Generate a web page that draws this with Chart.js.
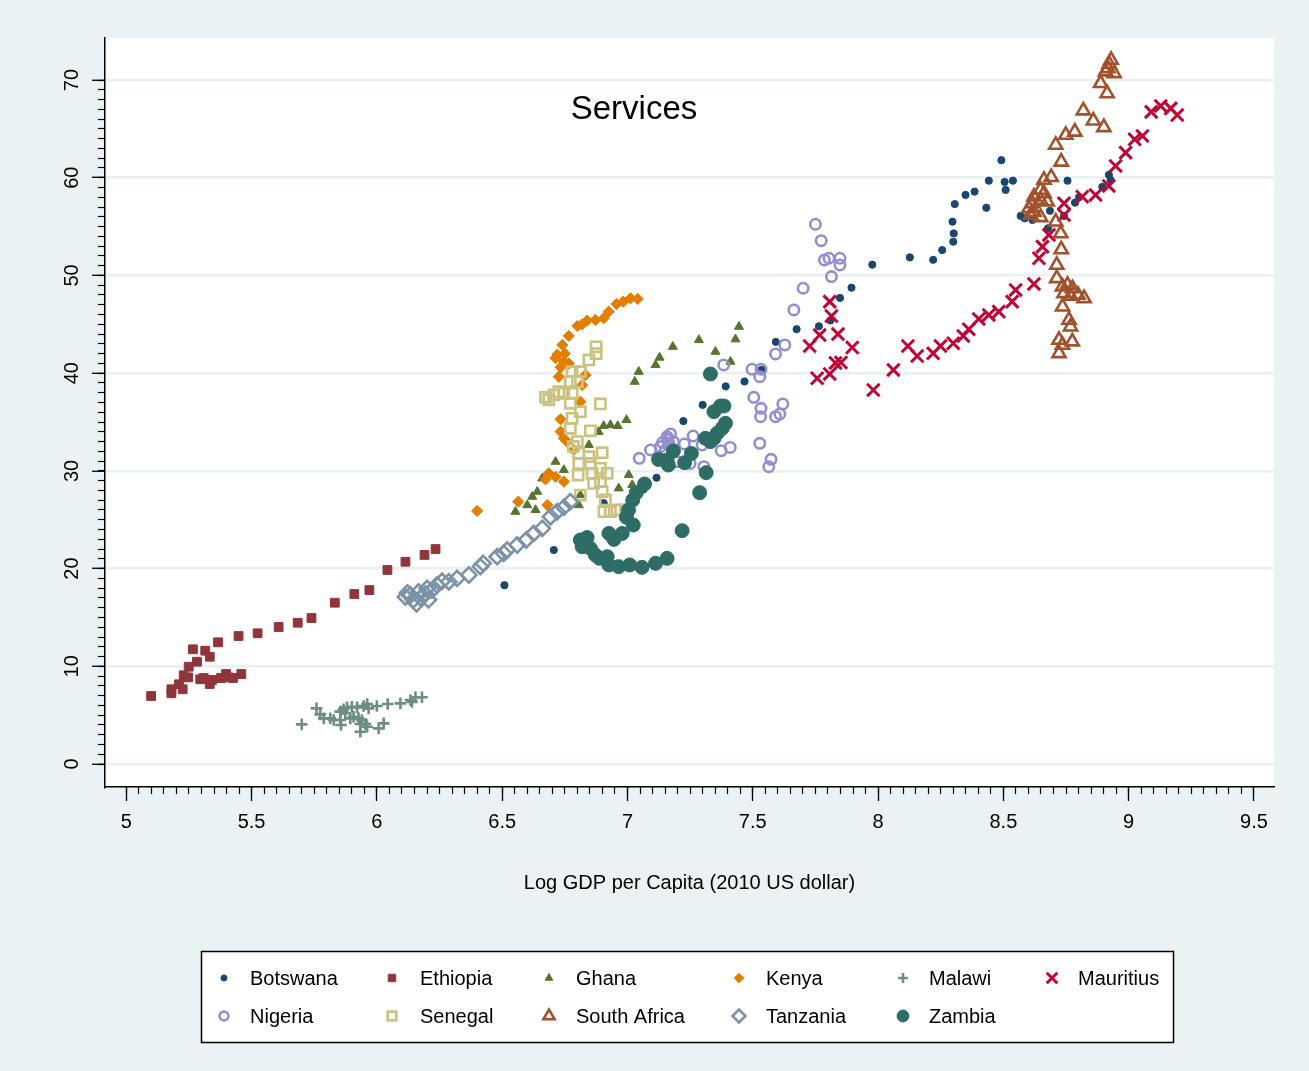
<!DOCTYPE html>
<html><head><meta charset="utf-8">
<script src="https://cdn.jsdelivr.net/npm/chart.js@4.4.1/dist/chart.umd.min.js"></script>
<style>html,body{margin:0;padding:0;background:#eaf2f3;}#wrap{width:1309px;height:1071px;position:relative;}</style>
</head><body><div id="wrap"><canvas id="c" width="1309" height="1071"></canvas></div>
<script>
// ---------------- DATA ----------------
const chartTitle = 'Services';
const xAxisTitle = 'Log GDP per Capita (2010 US dollar)';
const xTickValues = [5, 5.5, 6, 6.5, 7, 7.5, 8, 8.5, 9, 9.5];
const yTickValues = [0, 10, 20, 30, 40, 50, 60, 70];

const countries = ['Botswana','Ethiopia','Ghana','Kenya','Malawi','Mauritius','Nigeria','Senegal','South Africa','Tanzania','Zambia'];

const botswanaX = [6.509,6.706,6.905,7.063,7.116,7.223,7.300,7.392,7.467,7.535,7.592,7.675,7.764,7.810,7.848,7.894,7.977,8.127,8.220,8.256,8.300,8.302,8.297,8.306,8.349,8.385,8.432,8.442,8.492,8.505,8.509,8.538,8.569,8.585,8.616,8.678,8.686,8.742,8.756,8.786,8.802,8.895,8.921,8.928];
const botswanaY = [18.3,21.9,26.7,28.1,29.3,35.1,36.75,38.65,39.15,40.35,43.2,44.5,44.8,45.4,47.7,48.75,51.1,51.85,51.6,52.6,53.45,54.3,55.5,57.3,58.24,58.58,56.93,59.7,61.8,59.57,58.75,59.7,56.09,55.85,55.68,54.83,56.62,56.09,59.7,57.45,58.0,59.06,60.29,59.77];

const ethiopiaX = [5.099,5.180,5.180,5.210,5.225,5.229,5.247,5.249,5.266,5.282,5.295,5.309,5.315,5.333,5.333,5.342,5.366,5.378,5.398,5.408,5.426,5.448,5.459,5.524,5.608,5.684,5.739,5.832,5.910,5.970,6.042,6.114,6.190,6.234];
const ethiopiaY = [6.96,7.65,7.24,8.16,7.65,9.08,8.87,9.96,11.74,10.47,8.67,8.8,11.6,10.98,8.19,8.6,12.46,8.8,9.21,8.87,8.8,13.1,9.21,13.38,14.02,14.46,14.94,16.51,17.4,17.8,19.86,20.7,21.4,22.0];

const ghanaX = [7.445,7.431,7.285,7.351,7.411,7.181,7.128,7.112,7.045,7.029,6.996,6.961,6.932,6.905,6.885,7.005,6.965,7.019,6.846,6.713,6.746,6.686,6.660,6.640,6.620,6.600,6.633,6.553,6.806,6.812];
const ghanaY = [44.76,43.47,43.4,42.2,41.18,42.71,41.6,40.84,40.15,39.13,35.21,34.6,34.7,34.6,34.0,29.58,28.22,28.56,32.65,30.94,30.09,29.75,29.24,27.87,27.36,26.5,26.0,25.82,26.5,27.53];

const kenyaX = [7.041,7.012,6.983,6.956,6.925,6.905,6.872,6.839,6.819,6.800,6.766,6.740,6.713,6.746,6.766,6.733,6.726,6.832,6.819,6.812,6.720,6.750,6.733,6.733,6.746,6.759,6.786,6.686,6.713,6.673,6.746,6.400,6.564,6.680];
const kenyaY = [47.6,47.66,47.32,47.08,46.3,45.62,45.45,45.37,45.0,44.83,43.81,42.89,41.53,41.18,41.0,40.6,39.64,39.81,38.79,37.08,41.9,42.0,35.28,34.03,33.33,33.0,32.14,29.75,29.4,29.14,28.9,25.9,26.85,26.5];

const malawiX = [5.700,5.759,5.774,5.788,5.814,5.828,5.854,5.854,5.857,5.867,5.874,5.881,5.894,5.900,5.907,5.921,5.927,5.934,5.934,5.940,5.947,5.954,5.961,5.961,5.967,6.000,6.007,6.027,6.043,6.094,6.134,6.140,6.154,6.180];
const malawiY = [4.06,5.7,5.08,4.67,4.67,4.5,4.5,5.36,3.99,5.6,5.19,5.8,4.67,5.86,4.84,5.8,4.67,4.09,3.31,4.5,5.94,4.09,6.14,3.82,5.7,5.94,3.65,4.16,6.14,6.21,6.55,6.36,6.83,6.83];

const mauritiusX = [7.727,7.757,7.767,7.807,7.814,7.807,7.830,7.852,7.840,7.897,7.981,8.061,8.119,8.156,8.220,8.249,8.300,8.340,8.362,8.402,8.442,8.482,8.535,8.549,8.622,8.642,8.656,8.682,8.742,8.742,8.815,8.868,8.921,8.948,8.988,9.024,9.055,9.090,9.128,9.168,9.194];
const mauritiusY = [42.78,39.48,43.9,47.32,45.85,39.92,41.05,41.09,44.0,42.63,38.28,40.33,42.78,41.76,42.03,42.78,43.06,43.81,44.5,45.55,45.96,46.3,47.32,48.52,49.13,51.76,52.95,54.15,56.19,57.38,58.06,58.24,59.16,61.21,62.57,63.93,64.28,66.74,67.35,67.1,66.42];

const nigeriaX = [7.750,7.773,7.786,7.804,7.848,7.848,7.814,7.701,7.664,7.628,7.591,7.384,7.497,7.533,7.528,7.504,7.533,7.531,7.591,7.608,7.620,7.528,7.573,7.564,7.410,7.374,7.305,7.047,7.092,7.132,7.158,7.172,7.165,7.152,7.227,7.262,7.298,7.198,7.250,7.184,7.140,7.160];
const nigeriaY = [55.24,53.56,51.59,51.76,51.76,51.07,49.88,48.69,46.47,42.89,41.97,40.84,40.4,40.4,39.64,37.53,36.4,35.55,35.55,35.82,36.85,32.82,31.18,30.43,32.4,32.07,30.43,31.29,32.14,32.48,33.5,33.78,32.82,32.14,32.75,33.57,32.65,30.94,30.76,32.97,32.9,33.2];

const senegalX = [6.875,6.875,6.846,6.812,6.779,6.800,6.772,6.779,6.726,6.706,6.673,6.686,6.746,6.772,6.812,6.892,6.779,6.772,6.852,6.800,6.784,6.806,6.846,6.899,6.806,6.852,6.892,6.859,6.919,6.803,6.892,6.865,6.899,6.812,6.912,6.906,6.932,6.958,6.992];
const senegalY = [42.7,42.0,41.35,40.15,40.15,39.13,39.13,37.94,38.1,37.77,37.53,37.26,37.94,36.92,36.06,36.85,35.38,34.36,34.1,33.0,32.5,31.8,31.45,31.86,30.76,30.76,30.26,29.75,29.75,29.58,28.89,28.72,27.87,27.53,27.02,25.82,25.82,26.0,26.0];

const southAfricaX = [8.930,8.922,8.917,8.908,8.942,8.888,8.914,8.819,8.859,8.901,8.785,8.749,8.709,8.731,8.691,8.662,8.648,8.622,8.662,8.675,8.616,8.602,8.622,8.649,8.609,8.648,8.709,8.729,8.731,8.713,8.713,8.736,8.756,8.776,8.742,8.768,8.798,8.822,8.736,8.762,8.768,8.775,8.722,8.736,8.722];
const southAfricaY = [72.06,71.65,71.2,70.86,70.69,69.67,68.63,66.87,65.84,65.16,64.7,64.38,63.36,61.63,60.06,59.77,58.75,58.07,58.4,57.56,57.38,56.87,56.5,55.95,56.19,57.73,55.5,54.3,52.66,51.07,49.71,48.85,49.03,48.68,48.17,47.9,48.0,47.66,46.8,45.45,44.76,43.23,43.4,42.89,42.03];

const tanzaniaX = [6.114,6.122,6.134,6.146,6.158,6.166,6.174,6.194,6.200,6.206,6.220,6.240,6.260,6.287,6.320,6.367,6.413,6.424,6.480,6.506,6.520,6.560,6.596,6.626,6.660,6.693,6.719,6.746,6.772];
const tanzaniaY = [17.1,17.5,17.3,16.8,16.4,17.6,17.0,17.4,17.98,16.8,17.8,18.32,18.7,18.66,19.0,19.35,20.2,20.54,21.22,21.56,21.9,22.42,22.93,23.6,24.12,25.31,25.82,26.27,26.85];

const zambiaX = [7.331,7.345,7.371,7.385,7.391,7.378,7.358,7.345,7.331,7.311,7.314,7.288,7.218,7.255,7.228,7.183,7.163,7.158,7.124,7.068,7.035,7.021,7.004,6.996,7.023,6.979,6.946,6.926,6.839,6.812,6.819,6.852,6.872,6.888,6.919,6.926,6.965,7.009,7.058,7.112,7.158];
const zambiaY = [39.92,36.06,36.64,36.64,34.87,34.36,33.85,33.33,32.99,33.33,29.82,27.77,23.88,31.78,30.84,32.04,30.6,31.1,31.17,28.66,27.77,27.02,26.0,25.25,24.46,23.6,22.99,23.6,23.18,22.93,22.24,22.07,21.39,21.05,21.22,20.37,20.2,20.37,20.13,20.54,21.05];

// ---------------- STYLE ----------------
const FONT = "'Liberation Sans', Arial, Helvetica, sans-serif";
Chart.defaults.font.family = FONT;
const seriesX = [botswanaX, ethiopiaX, ghanaX, kenyaX, malawiX, mauritiusX, nigeriaX, senegalX, southAfricaX, tanzaniaX, zambiaX];
const seriesY = [botswanaY, ethiopiaY, ghanaY, kenyaY, malawiY, mauritiusY, nigeriaY, senegalY, southAfricaY, tanzaniaY, zambiaY];
const styles = [
  {c:'#1a476f', ps:'circle',   r:3.6, bw:1,   fill:true},
  {c:'#90353b', ps:'rect',     r:6.2, bw:1,   fill:true},
  {c:'#55752f', ps:'triangle', r:5.2, bw:1,   fill:true},
  {c:'#e37e00', ps:'rectRot',  r:5.6, bw:1,   fill:true},
  {c:'#6e8e84', ps:'cross',    r:5.8, bw:2.6, fill:false},
  {c:'#c10534', ps:'crossRot', r:8.8, bw:3,   fill:false},
  {c:'#938dd2', ps:'circle',   r:5.2, bw:2.6, fill:false},
  {c:'#cac27e', ps:'rect',     r:7.2, bw:2.6, fill:false},
  {c:'#a0522d', ps:'triangle', r:7.6, bw:2.6, fill:false},
  {c:'#7b92a8', ps:'rectRot',  r:7.6, bw:2.6, fill:false},
  {c:'#2d6d66', ps:'circle',   r:7.0, bw:1,   fill:true}
];

const datasets = countries.map((name, i) => ({
  label: name,
  data: seriesX[i].map((x, k) => ({x: x, y: seriesY[i][k]})),
  showLine: false,
  order: countries.length - i,
  pointStyle: styles[i].ps,
  pointRadius: styles[i].r,
  pointBorderWidth: styles[i].bw,
  pointBorderColor: styles[i].c,
  pointBackgroundColor: styles[i].fill ? styles[i].c : 'rgba(0,0,0,0)'
}));

const X_MIN = 4.915, X_MAX = 9.58, Y_MIN = -2.35, Y_MAX = 74.3;

const bgPlugin = {
  id: 'bg',
  beforeDraw(chart) {
    const {ctx, chartArea: a} = chart;
    ctx.save();
    ctx.fillStyle = '#eaf2f3';
    ctx.fillRect(0, 0, chart.width, chart.height);
    ctx.fillStyle = '#ffffff';
    ctx.fillRect(a.left, a.top, a.right - a.left, a.bottom - a.top);
    ctx.restore();
  },
  afterDraw(chart) {
    const ctx = chart.ctx;
    ctx.save();
    // title inside plot region
    ctx.fillStyle = '#000';
    ctx.font = '33px ' + FONT;
    ctx.textAlign = 'center';
    ctx.textBaseline = 'middle';
    ctx.fillText(chartTitle, 634, 110);
    // legend box
    const bx = 201.5, by = 951.5, bw = 972, bh = 91;
    ctx.fillStyle = '#fff';
    ctx.fillRect(bx, by, bw, bh);
    ctx.strokeStyle = '#000';
    ctx.lineWidth = 1.5;
    ctx.strokeRect(bx, by, bw, bh);
    const markX = [224, 392, 549, 739, 903, 1052];
    const textX = [250, 420, 576, 766, 929, 1078];
    const rowY = [978, 1016];
    chart.data.datasets.forEach((ds, i) => {
      const col = i % 6, row = Math.floor(i / 6);
      const st = styles[i];
      ctx.save();
      ctx.fillStyle = st.fill ? st.c : 'rgba(0,0,0,0)';
      ctx.strokeStyle = st.c;
      ctx.lineWidth = st.bw;
      const opt = {pointStyle: st.ps, radius: st.r * 0.85, rotation: 0, borderWidth: st.bw};
      if (Chart.helpers && Chart.helpers.drawPoint) {
        Chart.helpers.drawPoint(ctx, opt, markX[col], rowY[row]);
      }
      ctx.restore();
      ctx.fillStyle = '#000';
      ctx.font = '20px ' + FONT;
      ctx.textAlign = 'left';
      ctx.textBaseline = 'middle';
      ctx.fillText(ds.label, textX[col], rowY[row] + 1);
    });
    ctx.restore();
  }
};

new Chart(document.getElementById('c'), {
  type: 'scatter',
  data: {datasets: datasets},
  plugins: [bgPlugin],
  options: {
    responsive: false,
    animation: false,
    events: [],
    layout: {padding: {left: 0, top: 38, right: 35, bottom: 0}},
    plugins: {legend: {display: false}, tooltip: {enabled: false}, title: {display: false}},
    scales: {
      x: {
        type: 'linear', position: 'bottom', min: X_MIN, max: X_MAX, weight: 1,
        afterBuildTicks: s => { s.ticks = xTickValues.map(v => ({value: v})); },
        ticks: {stepSize: 0.5, includeBounds: false, autoSkip: false, maxRotation: 0, minRotation: 0,
                color: '#000', font: {size: 20}, padding: 9,
                callback: v => String(v)},
        grid: {drawOnChartArea: false, drawTicks: true, tickLength: 14, tickColor: '#000', tickWidth: 1.3},
        border: {display: true, color: '#000', width: 1.5},
        title: {display: true, text: xAxisTitle, color: '#000', font: {size: 20}, padding: {top: 0, bottom: 176}},
        afterFit: s => { s.height = 284; }
      },
      x2: {
        type: 'linear', position: 'bottom', min: X_MIN, max: X_MAX, weight: 0,
        ticks: {display: false, stepSize: 0.05, includeBounds: false},
        afterBuildTicks: s => { s.ticks = s.ticks.filter(t => t.value > 4.999 && t.value < 9.501); },
        grid: {drawOnChartArea: false, drawTicks: true, tickLength: 7, tickColor: '#000', tickWidth: 1.2},
        border: {display: false},
        afterFit: s => { s.height = 0; }
      },
      y: {
        type: 'linear', position: 'left', min: Y_MIN, max: Y_MAX, weight: 1,
        afterBuildTicks: s => { s.ticks = yTickValues.map(v => ({value: v})); },
        ticks: {stepSize: 10, includeBounds: false, minRotation: 90, maxRotation: 90, crossAlign: 'center',
                color: '#000', font: {size: 20}, padding: 8, callback: v => String(v)},
        grid: {drawOnChartArea: true, color: '#e8f0f2', lineWidth: 2.5, drawTicks: true, tickLength: 13, tickColor: '#000', tickWidth: 1.3},
        border: {display: true, color: '#000', width: 1.5},
        afterFit: s => { s.width = 105; }
      },
      y2: {
        type: 'linear', position: 'left', min: Y_MIN, max: Y_MAX, weight: 0,
        ticks: {display: false, stepSize: 1, includeBounds: false},
        afterBuildTicks: s => { s.ticks = s.ticks.filter(t => t.value > -0.001 && t.value < 70.001); },
        grid: {drawOnChartArea: false, drawTicks: true, tickLength: 7, tickColor: '#000', tickWidth: 1.2},
        border: {display: false},
        afterFit: s => { s.width = 0; }
      }
    }
  }
});
</script></body></html>
